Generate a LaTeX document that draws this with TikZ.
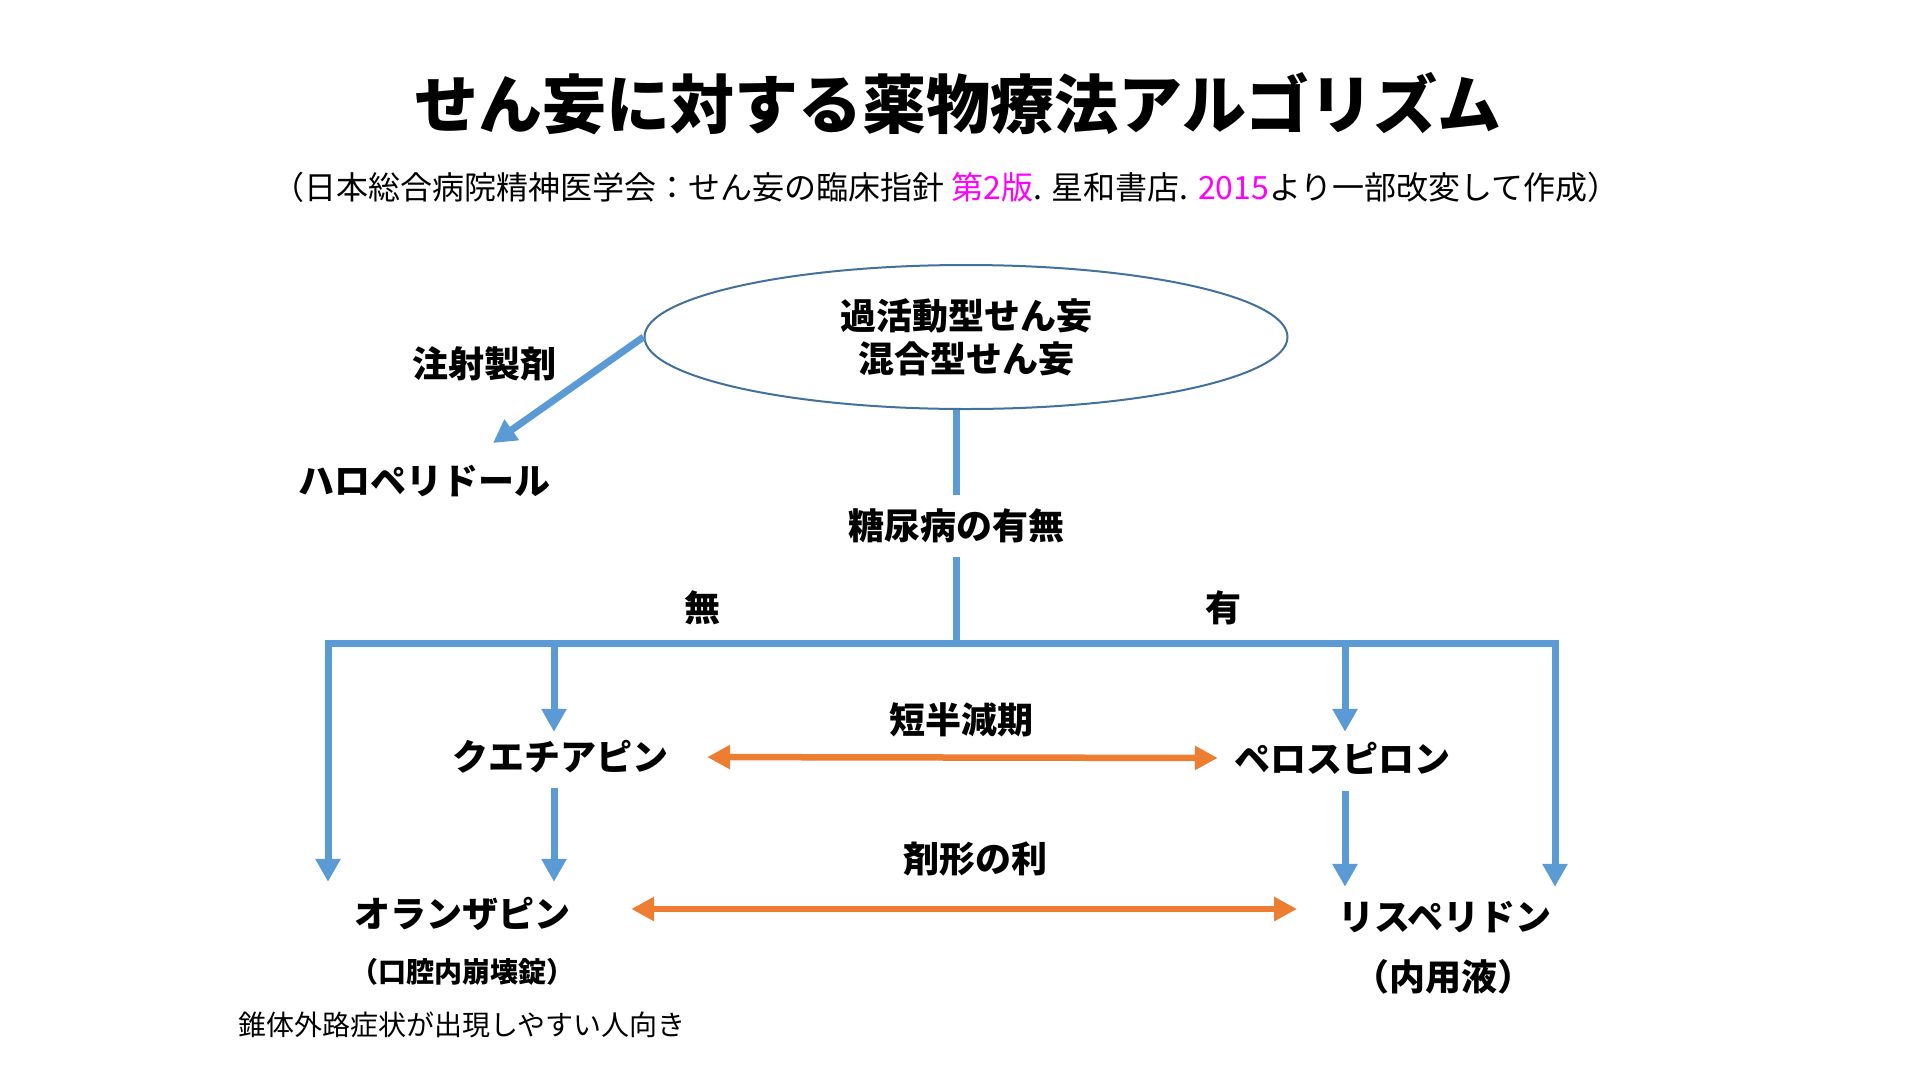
\documentclass[tikz,border=0pt]{standalone}
\usepackage{fontspec}
\setmainfont{Noto Sans CJK JP}
\usetikzlibrary{arrows.meta,shapes.geometric}
\definecolor{lblue}{HTML}{5B9BD5}
\definecolor{eblue}{HTML}{41719C}
\definecolor{orng}{HTML}{ED7D31}
\definecolor{mag}{HTML}{FF00FF}
\begin{document}
\begin{tikzpicture}[x=1pt,y=-1pt,
  lbl/.style={inner sep=0pt, font=\fontsize{36}{43}\selectfont\bfseries, align=center},
  bline/.style={draw=lblue, line width=7pt},
  btip/.tip={Triangle[length=23pt,width=24pt]},
  barrow/.style={bline, -btip},
  otip/.tip={Triangle[length=23pt,width=23pt]},
  oarrow/.style={draw=orng, line width=6.5pt, otip-otip}]
\fill[white] (0,0) rectangle (1920,1080);
\useasboundingbox (0,0) rectangle (1920,1080);

\node[font=\fontsize{64}{76}\selectfont\bfseries, inner sep=0pt] (title) at (958,104) {せん妄に対する薬物療法アルゴリズム};
\node[font=\fontsize{32}{38}\selectfont, inner sep=0pt] (sub) at (946,187) {（日本総合病院精神医学会：せん妄の臨床指針 \textcolor{mag}{第2版}. 星和書店. \textcolor{mag}{2015}より一部改変して作成）};

\node[ellipse, draw=eblue, line width=2pt, minimum width=643pt, minimum height=144pt, lbl] (top) at (966,337) {過活動型せん妄\\混合型せん妄};

\node[lbl] (inj) at (484,364) {注射製剤};
\node[lbl] (halo) at (424,481) {ハロペリドール};
\coordinate (halotip) at (493,443);
\draw[barrow] (top.west) -- (halotip);

\node[lbl, minimum height=62pt] (dm) at (956,526) {糖尿病の有無};
\draw[bline] (dm.north |- top.south) -- (dm.north);
\coordinate (jL) at (328,643);
\coordinate (jR) at (1555,643);
\coordinate (j1) at (554,643);
\coordinate (j3) at (1345,643);
\draw[bline] (dm.south) -- (dm.south |- jL);
\node[lbl] (no) at (702,608) {無};
\node[lbl] (yes) at (1223,608) {有};

\node[lbl, minimum height=50pt] (que) at (560,757) {クエチアピン};
\node[lbl, minimum height=52pt] (pero) at (1342,758) {ペロスピロン};
\node[lbl, minimum height=64pt] (ola) at (462,914) {オランザピン};
\node[lbl, minimum height=60pt] (ris) at (1445,917) {リスペリドン};
\node[lbl, font=\fontsize{28}{33}\selectfont\bfseries] (ola2) at (462,972) {（口腔内崩壊錠）};
\node[lbl] (ris2) at (1443,977) {（内用液）};
\node[inner sep=0pt, font=\fontsize{28}{34}\selectfont, anchor=west] (eps) at (238,1025) {錐体外路症状が出現しやすい人向き};
\node[lbl] (short) at (961,720) {短半減期};
\node[lbl] (form) at (975,859) {剤形の利};

\draw[barrow] (j1) -- (j1 |- que.north);
\draw[barrow, shorten <=6pt] (j1 |- que.south) -- (j1 |- ola.north);
\draw[barrow] (j3) -- (j3 |- pero.north);
\draw[barrow, shorten <=7pt] (j3 |- pero.south) -- (j3 |- ris.north);
\draw[bline, btip-btip] (jL |- ola.north) -- (jL) -- (jR) -- (jR |- ris.north);

\draw[oarrow, shorten <=39pt, shorten >=16pt] (que.east) -- (pero.west);
\draw[oarrow, shorten <=61pt, shorten >=41pt] ([yshift=5pt]ola.east) -- ([yshift=5pt]ola.east -| ris.west);
\end{tikzpicture}
\end{document}
